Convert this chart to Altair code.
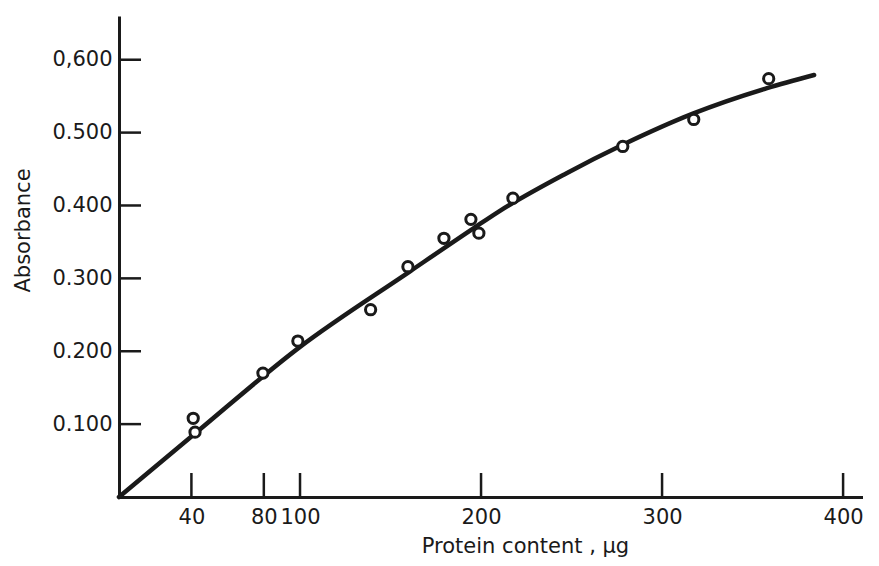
import altair as alt
import pandas as pd

# measured points (protein content in µg, absorbance)
pt_x = [41, 42, 79.5, 98.8, 139, 159.6, 179.5, 194.4, 198.8, 217.6, 278.3, 317.5, 358.9]
pt_y = [0.108, 0.089, 0.170, 0.214, 0.257, 0.316, 0.355, 0.381, 0.362, 0.410, 0.481, 0.518, 0.574]

# fitted calibration curve
curve_x = [0, 41, 100, 161, 196, 210, 247, 278, 317, 358, 384]
curve_y = [0, 0.085, 0.206, 0.310, 0.369, 0.392, 0.444, 0.483, 0.526, 0.561, 0.579]

x_ticks = [40, 80, 100, 200, 300, 400]
y_ticks = [0.1, 0.2, 0.3, 0.4, 0.5, 0.6]
y_tick_labels = ["0.100", "0.200", "0.300", "0.400", "0.500", "0,600"]

FONT = "DejaVu Sans"
INK = "#1a1a1a"
W, H = 744, 481

pts = pd.DataFrame({"x": pt_x, "y": pt_y})
curve = pd.DataFrame({"x": curve_x, "y": curve_y})
xt = pd.DataFrame({"v": x_ticks})
yt = pd.DataFrame({"v": y_ticks})

label_expr = " : ".join(
    f"datum.value > {v - 0.01:.3f} && datum.value < {v + 0.01:.3f} ? '{lab}'"
    for v, lab in zip(y_ticks, y_tick_labels)
) + " : ''"

xscale = alt.Scale(domain=[0, 411], nice=False, zero=False)
yscale = alt.Scale(domain=[0, 0.66], nice=False, zero=False)

xaxis = alt.Axis(
    values=x_ticks, ticks=False, grid=False, domainWidth=3, domainColor=INK,
    labelFont=FONT, labelFontSize=21, labelColor=INK, labelPadding=9,
    labelOverlap=False, labelFlush=False,
    title="Protein  content , µg", titleFont=FONT, titleFontSize=21,
    titleFontWeight="normal", titleColor=INK, titleX=406, titleY=55,
    titleBaseline="alphabetic",
)
yaxis = alt.Axis(
    values=y_ticks, ticks=False, grid=False, domainWidth=3, domainColor=INK,
    labelFont=FONT, labelFontSize=21, labelColor=INK, labelPadding=7,
    labelExpr=label_expr, labelOverlap=False, labelFlush=False,
    title="Absorbance", titleFont=FONT, titleFontSize=21,
    titleFontWeight="normal", titleColor=INK, titleX=-86, titleY=214,
    titleBaseline="bottom",
)

line = alt.Chart(curve).mark_line(
    color=INK, strokeWidth=4.5, interpolate="monotone", strokeCap="round"
).encode(
    x=alt.X("x:Q", scale=xscale, axis=xaxis),
    y=alt.Y("y:Q", scale=yscale, axis=yaxis),
)

yticks = alt.Chart(yt).mark_rule(color=INK, strokeWidth=2.5).encode(
    y=alt.Y("v:Q", scale=yscale),
    x=alt.value(0),
    x2=alt.value(22),
)

xticks = alt.Chart(xt).mark_rule(color=INK, strokeWidth=2.5).encode(
    x=alt.X("v:Q", scale=xscale),
    y=alt.value(H - 24),
    y2=alt.value(H),
)

points = alt.Chart(pts).mark_point(
    shape="circle", filled=False, fill="white", fillOpacity=1,
    stroke=INK, strokeWidth=3, size=105, opacity=1,
).encode(
    x=alt.X("x:Q", scale=xscale),
    y=alt.Y("y:Q", scale=yscale),
)

chart = alt.layer(line, yticks, xticks, points).properties(
    width=W, height=H,
    autosize=alt.AutoSizeParams(type="none"),
    padding={"left": 111, "top": 8, "right": 0, "bottom": 61},
    background="white",
).configure_view(stroke=None)

chart.save("out.html", embed_options={"renderer": "svg", "actions": False})
